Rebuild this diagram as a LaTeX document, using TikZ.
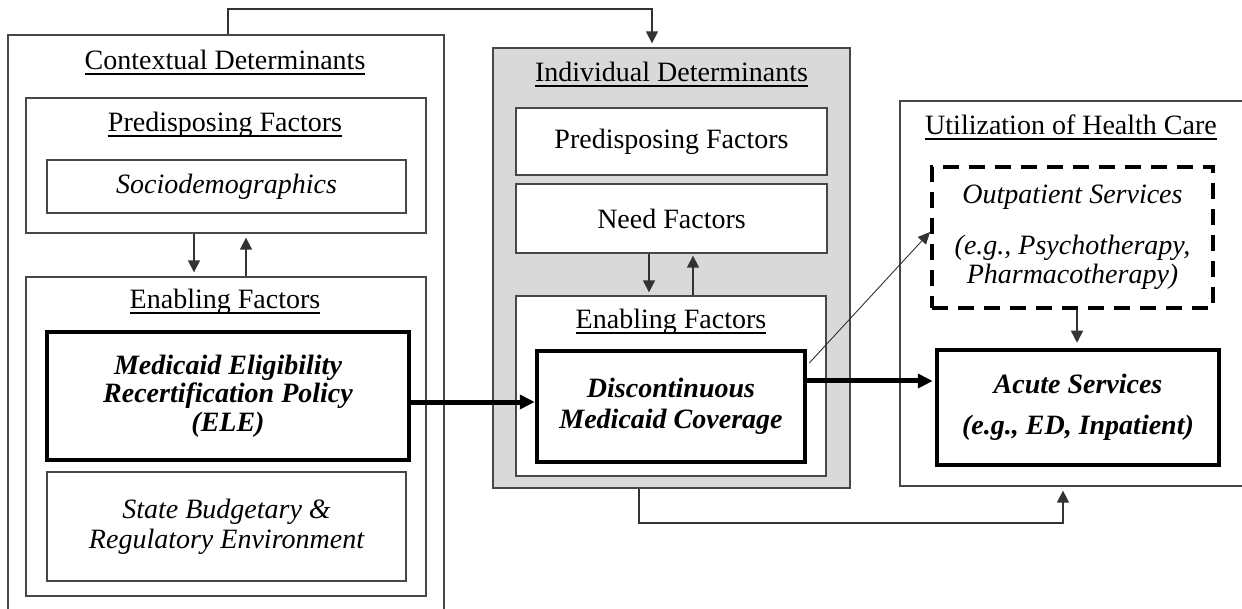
\documentclass[tikz,border=0pt]{standalone}
\usepackage{fontspec}
\setmainfont{Liberation Serif}
\usetikzlibrary{arrows.meta}
% underline drawn at a fixed depth, crossing descenders
\newcommand\ulword[1]{\setbox0=\hbox{#1}\rlap{\rule[-4.6pt]{\wd0}{1.3pt}}\box0}
\begin{document}
\begin{tikzpicture}[x=1pt,y=-1pt,
  frame/.style={draw=black!72, line width=1.3pt, rectangle, inner sep=0pt, fill=white},
  heavybox/.style={draw=black, line width=4.5pt, rectangle, inner sep=0pt, fill=white},
  dashbox/.style={draw=black, line width=4pt, rectangle, inner sep=0pt, fill=white,
    dash pattern=on 16pt off 10pt},
  title/.style={anchor=base, inner sep=0pt, font=\fontsize{28}{30}\selectfont},
  plain/.style={font=\fontsize{28}{30}\selectfont, align=center},
  ital/.style={font=\fontsize{28}{30}\selectfont\itshape, align=center},
  boldital/.style={font=\fontsize{28}{30}\selectfont\bfseries\itshape, align=center},
  conn/.style={draw=black!80, line width=1.4pt, -{Triangle[width=12pt,length=12pt]}},
  fineconn/.style={draw=black!80, line width=0.9pt, -{Triangle[width=11pt,length=12pt]}},
  heavyconn/.style={draw=black, line width=5pt, -{Triangle[width=14pt,length=15pt]}}]
\useasboundingbox (0,0) rectangle (1242,609);
\clip (0,0) rectangle (1242,609);
\fill[white] (0,0) rectangle (1242,609);

% ---- Contextual determinants ----
\node[frame, minimum width=436pt, minimum height=620pt] (ctx) at (226,345) {};
\node[title] (ctxT) at (225,70) {\ulword{Contextual Determinants}};
\node[frame, minimum width=400pt, minimum height=135pt] (cpred) at (226,165.5) {};
\node[title] (cpredT) at (225,132) {\ulword{Predisposing Factors}};
\node[frame, ital, minimum width=359pt, minimum height=53pt] (socio) at (226.5,186.5) {Sociodemographics};
\node[frame, minimum width=400pt, minimum height=319pt] (cen) at (226,436.5) {};
\node[title] (cenT) at (225,309) {\ulword{Enabling Factors}};
\node[heavybox, boldital, font=\fontsize{28}{28.5}\selectfont\bfseries\itshape,
  minimum width=362pt, minimum height=128pt] (ele) at (228,396)
  {Medicaid Eligibility\\Recertification Policy\\(ELE)};
\node[frame, ital, minimum width=359pt, minimum height=109pt] (state) at (226.5,526.5)
  {State Budgetary \&\\Regulatory Environment};

% ---- Individual determinants ----
\node[frame, fill=black!15, minimum width=357pt, minimum height=440pt] (ind) at (671.5,268) {};
\node[title] (indT) at (671.5,82) {\ulword{Individual Determinants}};
\node[frame, plain, minimum width=311pt, minimum height=67pt] (ipred) at (671.5,141.5) {Predisposing Factors};
\node[frame, plain, minimum width=311pt, minimum height=69pt] (ineed) at (671.5,218.5) {Need Factors};
\node[frame, minimum width=310pt, minimum height=180pt] (ien) at (671,386) {};
\node[title] (ienT) at (671,329) {\ulword{Enabling Factors}};
\node[heavybox, boldital, font=\fontsize{28}{31}\selectfont\bfseries\itshape,
  minimum width=268pt, minimum height=111pt] (disc) at (671,406.5)
  {Discontinuous\\Medicaid Coverage};

% ---- Utilization of health care ----
\node[frame, minimum width=360pt, minimum height=385pt] (util) at (1080,293.5) {};
\node[title] (utilT) at (1071,135) {\ulword{Utilization of Health Care}};
\node[dashbox, ital, font=\fontsize{28}{29}\selectfont\itshape,
  minimum width=281pt, minimum height=141pt] (out) at (1072.5,237.5)
  {Outpatient Services\\[22pt](e.g., Psychotherapy,\\Pharmacotherapy)};
\node[heavybox, boldital, font=\fontsize{28}{41}\selectfont\bfseries\itshape,
  minimum width=282pt, minimum height=115pt] (acute) at (1078,407.5)
  {Acute Services\\(e.g., ED, Inpatient)};

% ---- connectors ----
\coordinate (t1) at (228,9);
\coordinate (t2) at (652,9);
\draw[conn, shorten >=4pt] (ctx.north -| t1) -- (t1) -- (t2) -- (ind.north -| t2);

\coordinate (cd) at (194,0);
\coordinate (cu) at (246,0);
\draw[conn, shorten >=4pt] (cpred.south -| cd) -- (cen.north -| cd);
\draw[conn, shorten >=4pt] (cen.north -| cu) -- (cpred.south -| cu);

\coordinate (id) at (649,0);
\coordinate (iu) at (693,0);
\draw[conn, shorten >=3pt] (ineed.south -| id) -- (ien.north -| id);
\draw[conn, shorten >=2pt] (ien.north -| iu) -- (ineed.south -| iu);

\coordinate (h1) at (0,402);
\draw[heavyconn] (ele.east |- h1) -- (disc.west |- h1);

\coordinate (h2) at (0,381);
\draw[heavyconn, shorten >=2pt] (disc.east |- h2) -- (acute.west |- h2);

\coordinate (d1) at (0,363);
\coordinate (d2) at (0,232);
\draw[fineconn] ([xshift=2pt]disc.east |- d1) -- (out.west |- d2);

\coordinate (oa) at (1077,0);
\draw[conn, shorten >=5pt] (out.south -| oa) -- (acute.north -| oa);

\coordinate (b1) at (639,523);
\coordinate (b2) at (1063,523);
\draw[conn, shorten >=4pt] (ind.south -| b1) -- (b1) -- (b2) -- (util.south -| b2);
\end{tikzpicture}
\end{document}
